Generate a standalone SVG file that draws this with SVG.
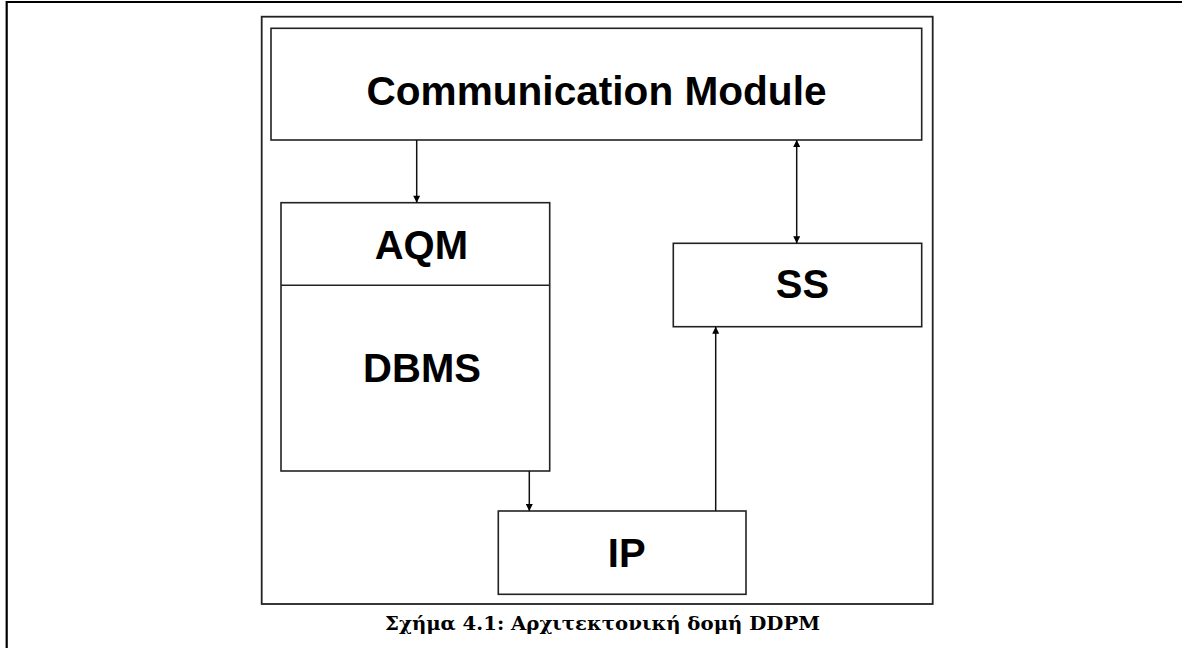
<svg xmlns="http://www.w3.org/2000/svg" width="1182" height="648" viewBox="0 0 1182 648">
<style>
.box{fill:#fff;stroke:#222;stroke-width:1.6}
.lbl{font-family:"Liberation Sans",Arial,sans-serif;font-weight:bold;font-size:40px;fill:#000;text-anchor:middle}
.con{stroke:#111;stroke-width:1.5;fill:none}
.cap{font-family:"DejaVu Serif","Liberation Serif",serif;font-weight:bold;font-size:18px;fill:#000;text-anchor:middle}
</style>
<defs>
<marker id="ah" viewBox="0 0 10 10" refX="10" refY="5" markerWidth="8" markerHeight="7" markerUnits="userSpaceOnUse" orient="auto-start-reverse">
<path d="M0,0 L10,5 L0,10 z" fill="#000"/>
</marker>
</defs>
<rect width="1182" height="648" fill="#fff"/>
<path d="M6.7 648 V2 H1182" fill="none" stroke="#000" stroke-width="2.2"/>
<rect id="frame" x="261.7" y="16.7" width="671" height="587.3" fill="none" stroke="#222" stroke-width="1.8"/>
<g id="communication-module">
<rect class="box" x="271" y="28.3" width="650.7" height="111.7"/>
<text class="lbl" x="596.5" y="105" textLength="460" lengthAdjust="spacingAndGlyphs" style="font-size:41px">Communication Module</text>
</g>
<g id="aqm-dbms">
<rect class="box" x="281" y="202.7" width="268.7" height="268.3"/>
<line x1="281" y1="285.3" x2="549.7" y2="285.3" stroke="#222" stroke-width="1.6"/>
<text class="lbl" x="421.3" y="259.3">AQM</text>
<text class="lbl" x="422" y="381.7">DBMS</text>
</g>
<g id="ss">
<rect class="box" x="673.3" y="243.3" width="248.4" height="83.4"/>
<text class="lbl" x="802.5" y="298.3">SS</text>
</g>
<g id="ip">
<rect class="box" x="498.3" y="511" width="247.7" height="83.3"/>
<text class="lbl" x="626.7" y="566.7">IP</text>
</g>
<g id="connectors">
<line class="con" x1="416.7" y1="140" x2="416.7" y2="202.7" marker-end="url(#ah)"/>
<line class="con" x1="796.7" y1="140" x2="796.7" y2="243.3" marker-start="url(#ah)" marker-end="url(#ah)"/>
<line class="con" x1="529.3" y1="471" x2="529.3" y2="511" marker-end="url(#ah)"/>
<line class="con" x1="715.7" y1="511" x2="715.7" y2="326.7" marker-end="url(#ah)"/>
</g>
<text id="caption" class="cap" x="602.5" y="629.5" textLength="435" lengthAdjust="spacingAndGlyphs">Σχήμα 4.1: Αρχιτεκτονική δομή DDPM</text>
</svg>
